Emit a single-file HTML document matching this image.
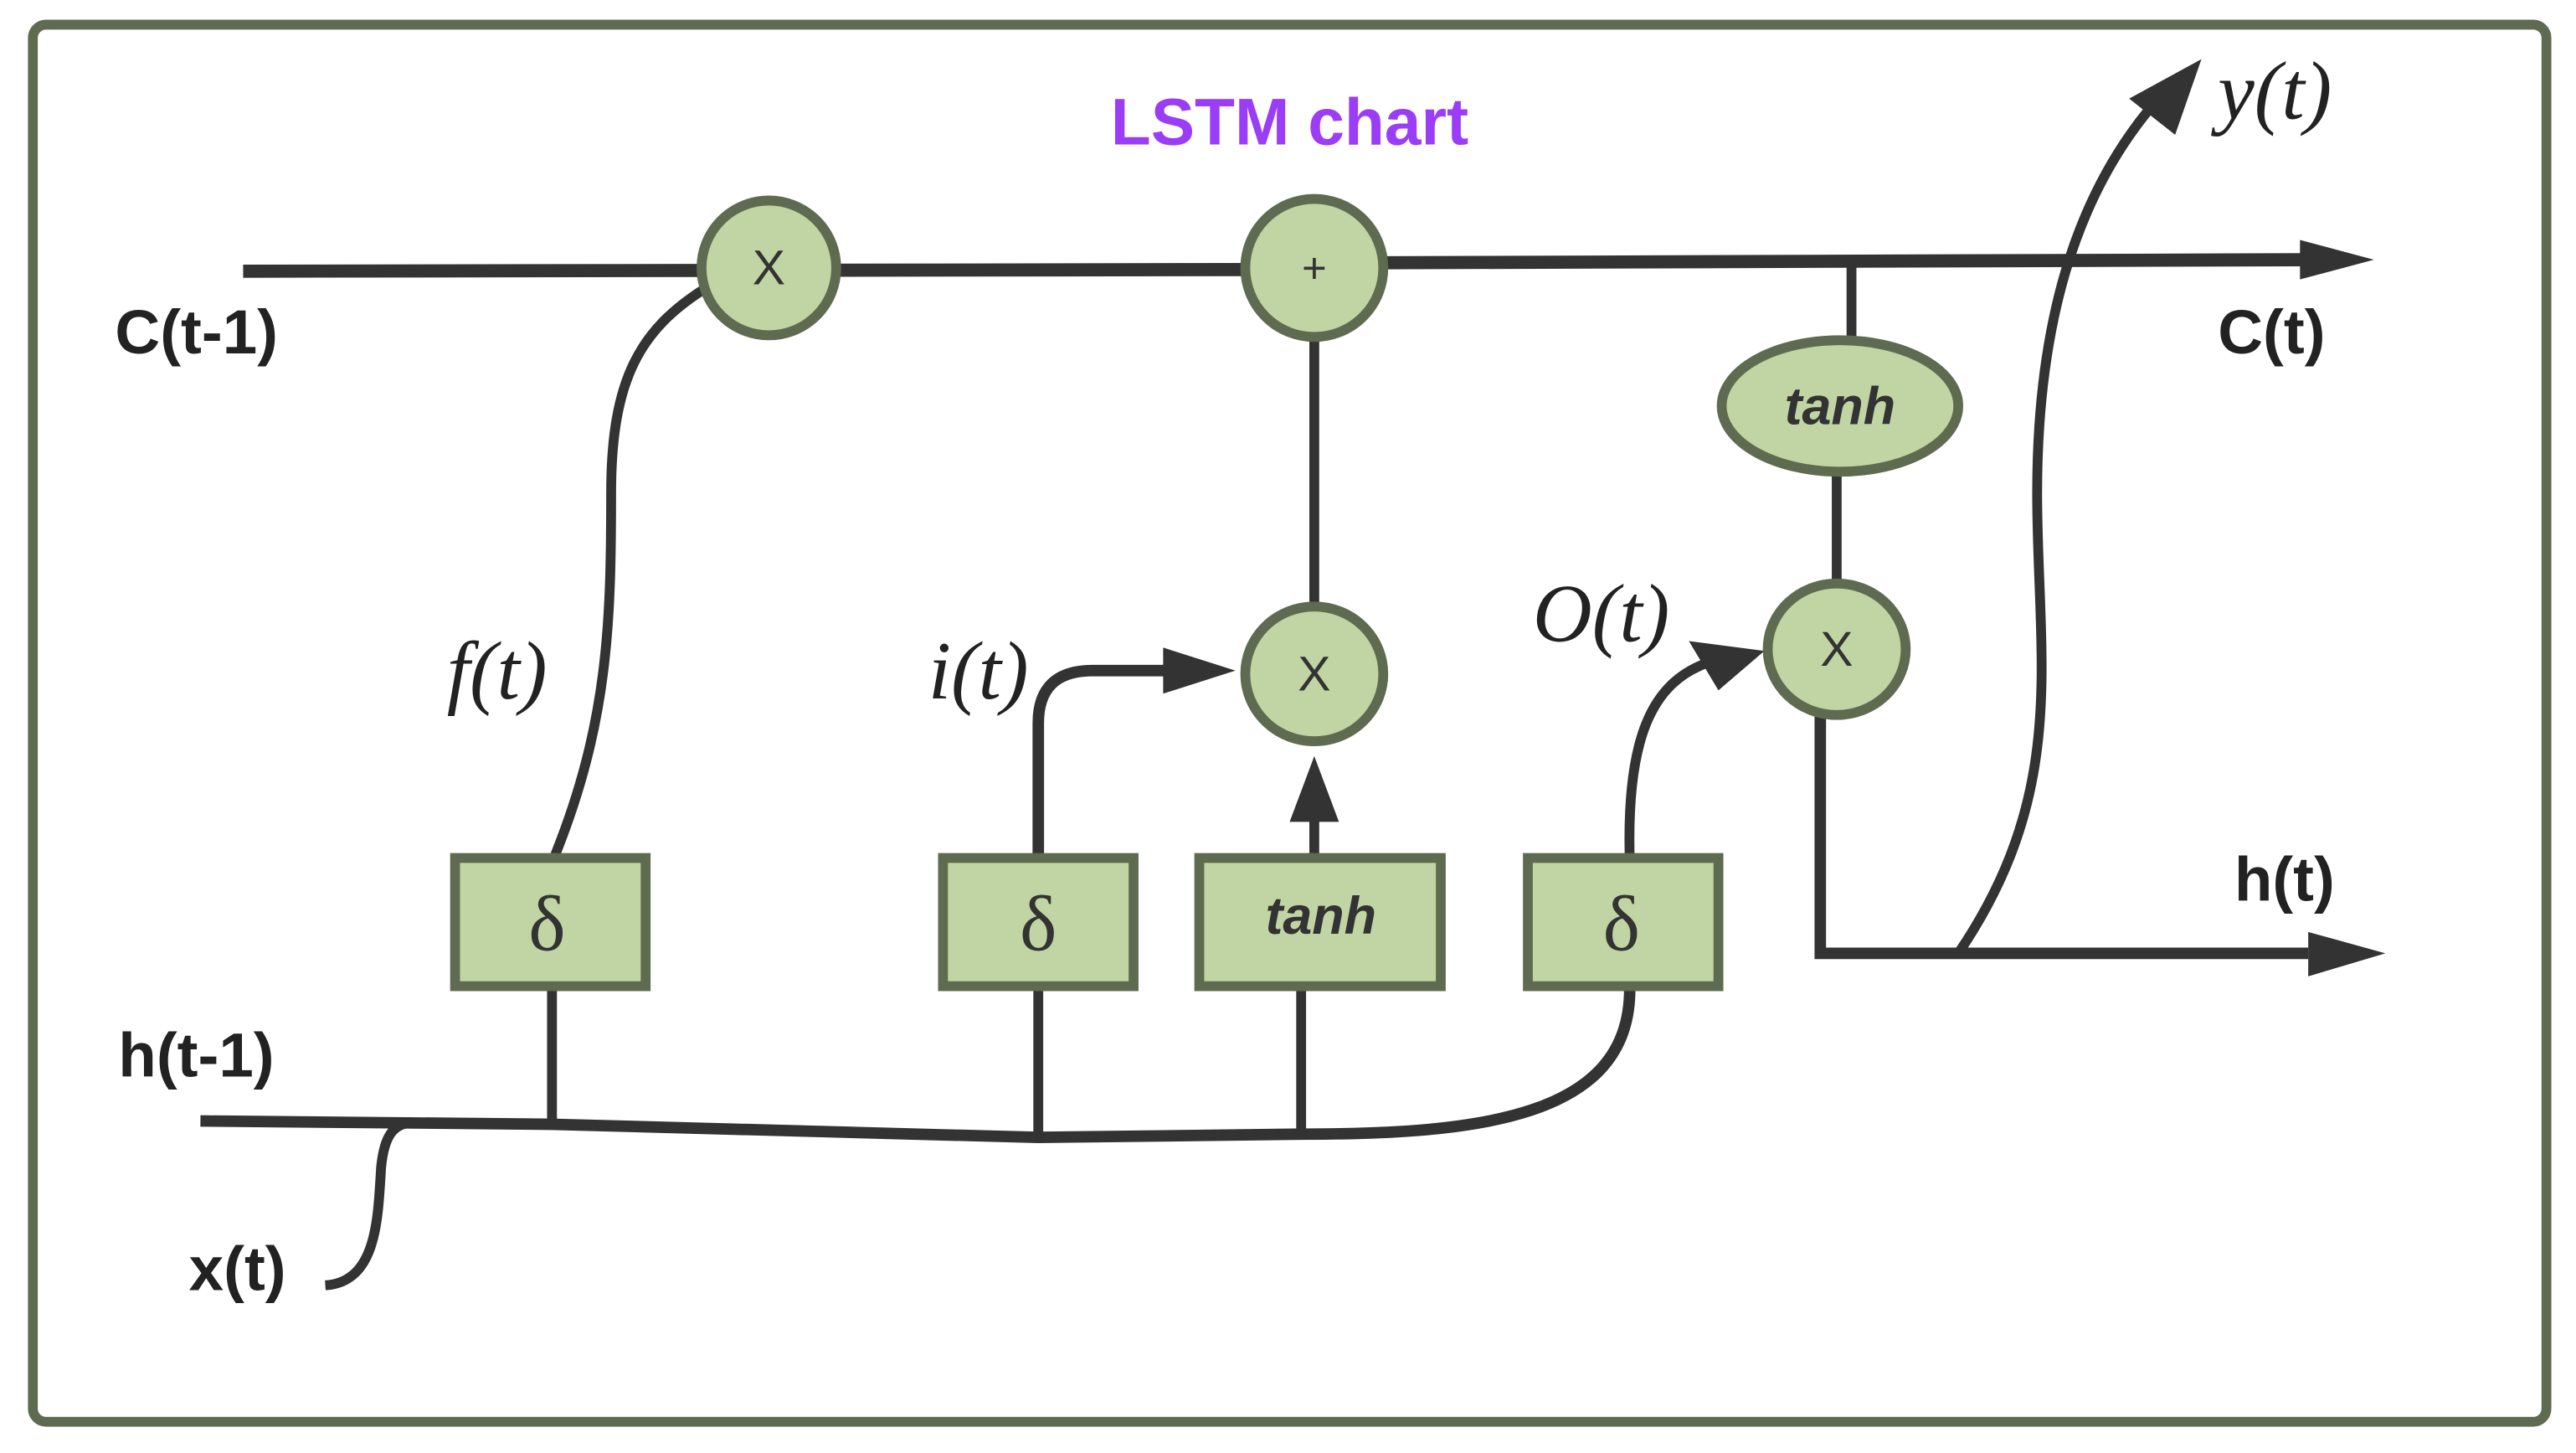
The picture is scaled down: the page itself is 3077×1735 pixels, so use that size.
<!DOCTYPE html>
<html><head><meta charset="utf-8"><style>
html,body{margin:0;padding:0;background:#fff;width:3077px;height:1735px;overflow:hidden}
svg{display:block}
</style></head><body>
<svg width="3077" height="1735" viewBox="0 0 1568 884" preserveAspectRatio="none" xmlns="http://www.w3.org/2000/svg">
<rect x="20" y="15" width="1530" height="850" rx="8" fill="#fff" stroke="#5f6b50" stroke-width="6"/>
<text x="785" y="88" text-anchor="middle" font-family="Liberation Sans, sans-serif" font-weight="bold" font-size="40" fill="#9b3cf6">LSTM chart</text>
<g stroke="#333" fill="none" stroke-linecap="butt">
<path d="M148,165 L760,164" stroke-width="8"/>
<path d="M800,160 L1405,158" stroke-width="8"/>
<path d="M1127,160 V212" stroke-width="6"/>
<path d="M1118,285 V358" stroke-width="6"/>
<path d="M800,205 V370" stroke-width="6"/>
<path d="M338,520 C370,440 372,380 372,300 C372,230 390,200 430,175" stroke-width="6"/>
<path d="M632,522 V440 Q632,408 665,408 L712,408" stroke-width="7"/>
<path d="M800,522 V492" stroke-width="6"/>
<path d="M992,522 C990,450 1005,415 1040,403" stroke-width="6"/>
<path d="M1108,432 V580 L1405,580" stroke-width="7"/>
<path d="M1192,580 C1260,480 1240,400 1240,300 C1240,200 1262,120 1312,62" stroke-width="6"/>
<path d="M122,682 L336,684 L632,692 L792,690 C900,690 992,680 992,602" stroke-width="7"/>
<path d="M336,600 V684 M632,600 V692 M792,600 V690" stroke-width="6"/>
<path d="M198,782 C230,780 230,740 232,710 C234,690 240,684 250,683" stroke-width="6"/>
</g>
<g fill="#333">
<polygon points="1400,146 1445,158 1400,170"/>
<polygon points="708,394 752,408 708,422"/>
<polygon points="785,500 815,500 800,460"/>
<polygon points="1028,390 1074,396 1046,420"/>
<polygon points="1405,567 1452,580 1405,594"/>
<polygon points="1296,60 1340,36 1324,82"/>
</g>
<g fill="#c0d5a3" stroke="#5f6b50" stroke-width="6">
<ellipse cx="468" cy="163" rx="41" ry="41"/>
<ellipse cx="800" cy="163" rx="42" ry="42"/>
<ellipse cx="800" cy="410" rx="42" ry="41"/>
<ellipse cx="1118" cy="395" rx="42" ry="40"/>
<ellipse cx="1120" cy="247" rx="72" ry="40"/>
<rect x="277" y="522" width="116" height="78"/>
<rect x="574" y="522" width="116" height="78"/>
<rect x="730" y="522" width="147" height="78"/>
<rect x="930" y="522" width="116" height="78"/>
</g>
<g font-family="Liberation Sans, sans-serif" fill="#333" text-anchor="middle">
<text x="468" y="173" font-size="30">X</text>
<text x="800" y="172" font-size="26">+</text>
<text x="800" y="420" font-size="30">X</text>
<text x="1118" y="405" font-size="30">X</text>
<text x="1120" y="258" font-size="32" font-style="italic" font-weight="bold">tanh</text>
<text x="804" y="568" font-size="32" font-style="italic" font-weight="bold">tanh</text>
</g>
<g font-family="Liberation Serif, serif" fill="#333" text-anchor="middle" font-size="48">
<text x="333" y="578">δ</text>
<text x="632" y="578">δ</text>
<text x="987" y="578">δ</text>
</g>
<g font-family="Liberation Sans, sans-serif" font-weight="bold" font-size="38" fill="#222">
<text x="70" y="215">C(t-1)</text>
<text x="1350" y="215">C(t)</text>
<text x="72" y="655">h(t-1)</text>
<text x="115" y="785">x(t)</text>
<text x="1360" y="548">h(t)</text>
</g>
<g font-family="Liberation Serif, serif" font-style="italic" font-size="50" fill="#222">
<text x="272" y="425">f(t)</text>
<text x="565" y="425">i(t)</text>
<text x="933" y="390">O(t)</text>
<text x="1350" y="72">y(t)</text>
</g>
</svg>
</body></html>
